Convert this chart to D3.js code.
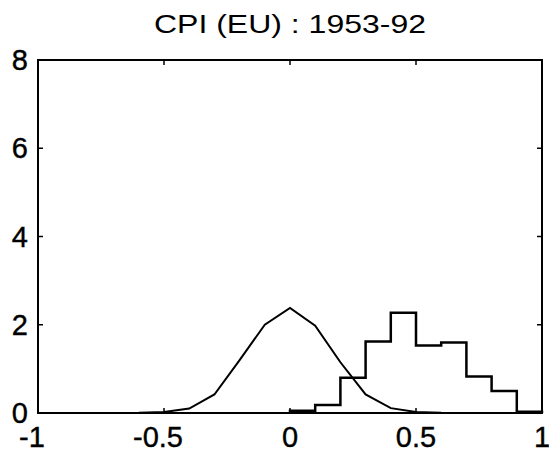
<!DOCTYPE html>
<html>
<head>
<meta charset="utf-8">
<script src="https://cdn.jsdelivr.net/npm/d3@7"></script>
<style>
body { margin: 0; background: #fff; }
text { font-family: "Liberation Sans", Arial, sans-serif; fill: #000; }
.tick-label { stroke: #000; stroke-width: 0.4px; }
</style>
</head>
<body>
<script>
var width = 549, height = 454;
var margin = {left: 38, right: 7, top: 60, bottom: 41};

// normal density curve, sampled every 0.1
var curveX = [-1, -0.9, -0.8, -0.7, -0.6, -0.5, -0.4, -0.3, -0.2, -0.1, 0, 0.1, 0.2, 0.3, 0.4, 0.5, 0.6, 0.7, 0.8, 0.9, 1];
var curveY = [0, 0, 0, 0, 0.003, 0.025, 0.1, 0.42, 1.2, 2.0, 2.38, 1.98, 1.15, 0.42, 0.11, 0.025, 0.003, 0, 0, 0, 0];

// histogram bins (left edges) and heights
var binEdges = [0, 0.1, 0.2, 0.3, 0.4, 0.5, 0.6, 0.7, 0.8, 0.9, 1.0];
var binHeights = [0.05, 0.18, 0.8, 1.62, 2.27, 1.53, 1.6, 0.83, 0.5, 0.03];

var xTicks = [-1, -0.5, 0, 0.5, 1];
var yTicks = [0, 2, 4, 6, 8];

var svg = d3.select("body").append("svg")
    .attr("width", width)
    .attr("height", height);

var w = width - margin.left - margin.right;
var h = height - margin.top - margin.bottom;

var x = d3.scaleLinear().domain([-1, 1]).range([0, w]);
var y = d3.scaleLinear().domain([0, 8]).range([h, 0]);

var g = svg.append("g")
    .attr("transform", "translate(" + margin.left + "," + margin.top + ")");

// title
svg.append("text")
    .attr("x", margin.left + w / 2)
    .attr("y", 33)
    .attr("text-anchor", "middle")
    .attr("textLength", 272)
    .attr("lengthAdjust", "spacingAndGlyphs")
    .style("font-size", "25px")
    .text("CPI (EU) : 1953-92");

// ticks (inward, all four sides)
var tl = 5;
g.selectAll(".xt").data(xTicks).enter().append("line")
    .attr("x1", function(d) { return x(d); }).attr("x2", function(d) { return x(d); })
    .attr("y1", h).attr("y2", h - tl)
    .attr("stroke", "#000").attr("stroke-width", 1.5);
g.selectAll(".xtt").data(xTicks).enter().append("line")
    .attr("x1", function(d) { return x(d); }).attr("x2", function(d) { return x(d); })
    .attr("y1", 0).attr("y2", tl)
    .attr("stroke", "#000").attr("stroke-width", 1.5);
g.selectAll(".yt").data(yTicks).enter().append("line")
    .attr("x1", 0).attr("x2", tl)
    .attr("y1", function(d) { return y(d); }).attr("y2", function(d) { return y(d); })
    .attr("stroke", "#000").attr("stroke-width", 1.5);
g.selectAll(".ytr").data(yTicks).enter().append("line")
    .attr("x1", w).attr("x2", w - tl)
    .attr("y1", function(d) { return y(d); }).attr("y2", function(d) { return y(d); })
    .attr("stroke", "#000").attr("stroke-width", 1.5);

// tick labels
g.selectAll(".xl").data(xTicks).enter().append("text")
    .attr("class", "tick-label")
    .attr("x", function(d) { return x(d) - (d < 0 ? 6 : 0); })
    .attr("y", h + 34)
    .attr("text-anchor", "middle")
    .style("font-size", "29px")
    .text(function(d) { return d3.format("")(d).replace("\u2212", "-"); });
g.selectAll(".yl").data(yTicks).enter().append("text")
    .attr("class", "tick-label")
    .attr("x", -10)
    .attr("y", function(d) { return y(d) + 10; })
    .attr("text-anchor", "end")
    .style("font-size", "29px")
    .text(function(d) { return d; });

// density curve
var pts = curveX.map(function(v, i) { return [v, curveY[i]]; });
var line = d3.line()
    .x(function(d) { return x(d[0]); })
    .y(function(d) { return y(d[1]); });
g.append("path")
    .attr("d", line(pts))
    .attr("fill", "none")
    .attr("stroke", "#000")
    .attr("stroke-width", 2);

// histogram as stairs
var steps = [[binEdges[0], 0]];
binHeights.forEach(function(v, i) { steps.push([binEdges[i], v]); steps.push([binEdges[i + 1], v]); });
steps.push([binEdges[binEdges.length - 1], 0]);
g.append("path")
    .attr("d", line(steps))
    .attr("fill", "none")
    .attr("stroke", "#000")
    .attr("stroke-width", 2.5);

// axes box
g.append("rect")
    .attr("x", 0).attr("y", 0)
    .attr("width", w).attr("height", h)
    .attr("fill", "none")
    .attr("stroke", "#000")
    .attr("stroke-width", 2);
</script>
</body>
</html>
